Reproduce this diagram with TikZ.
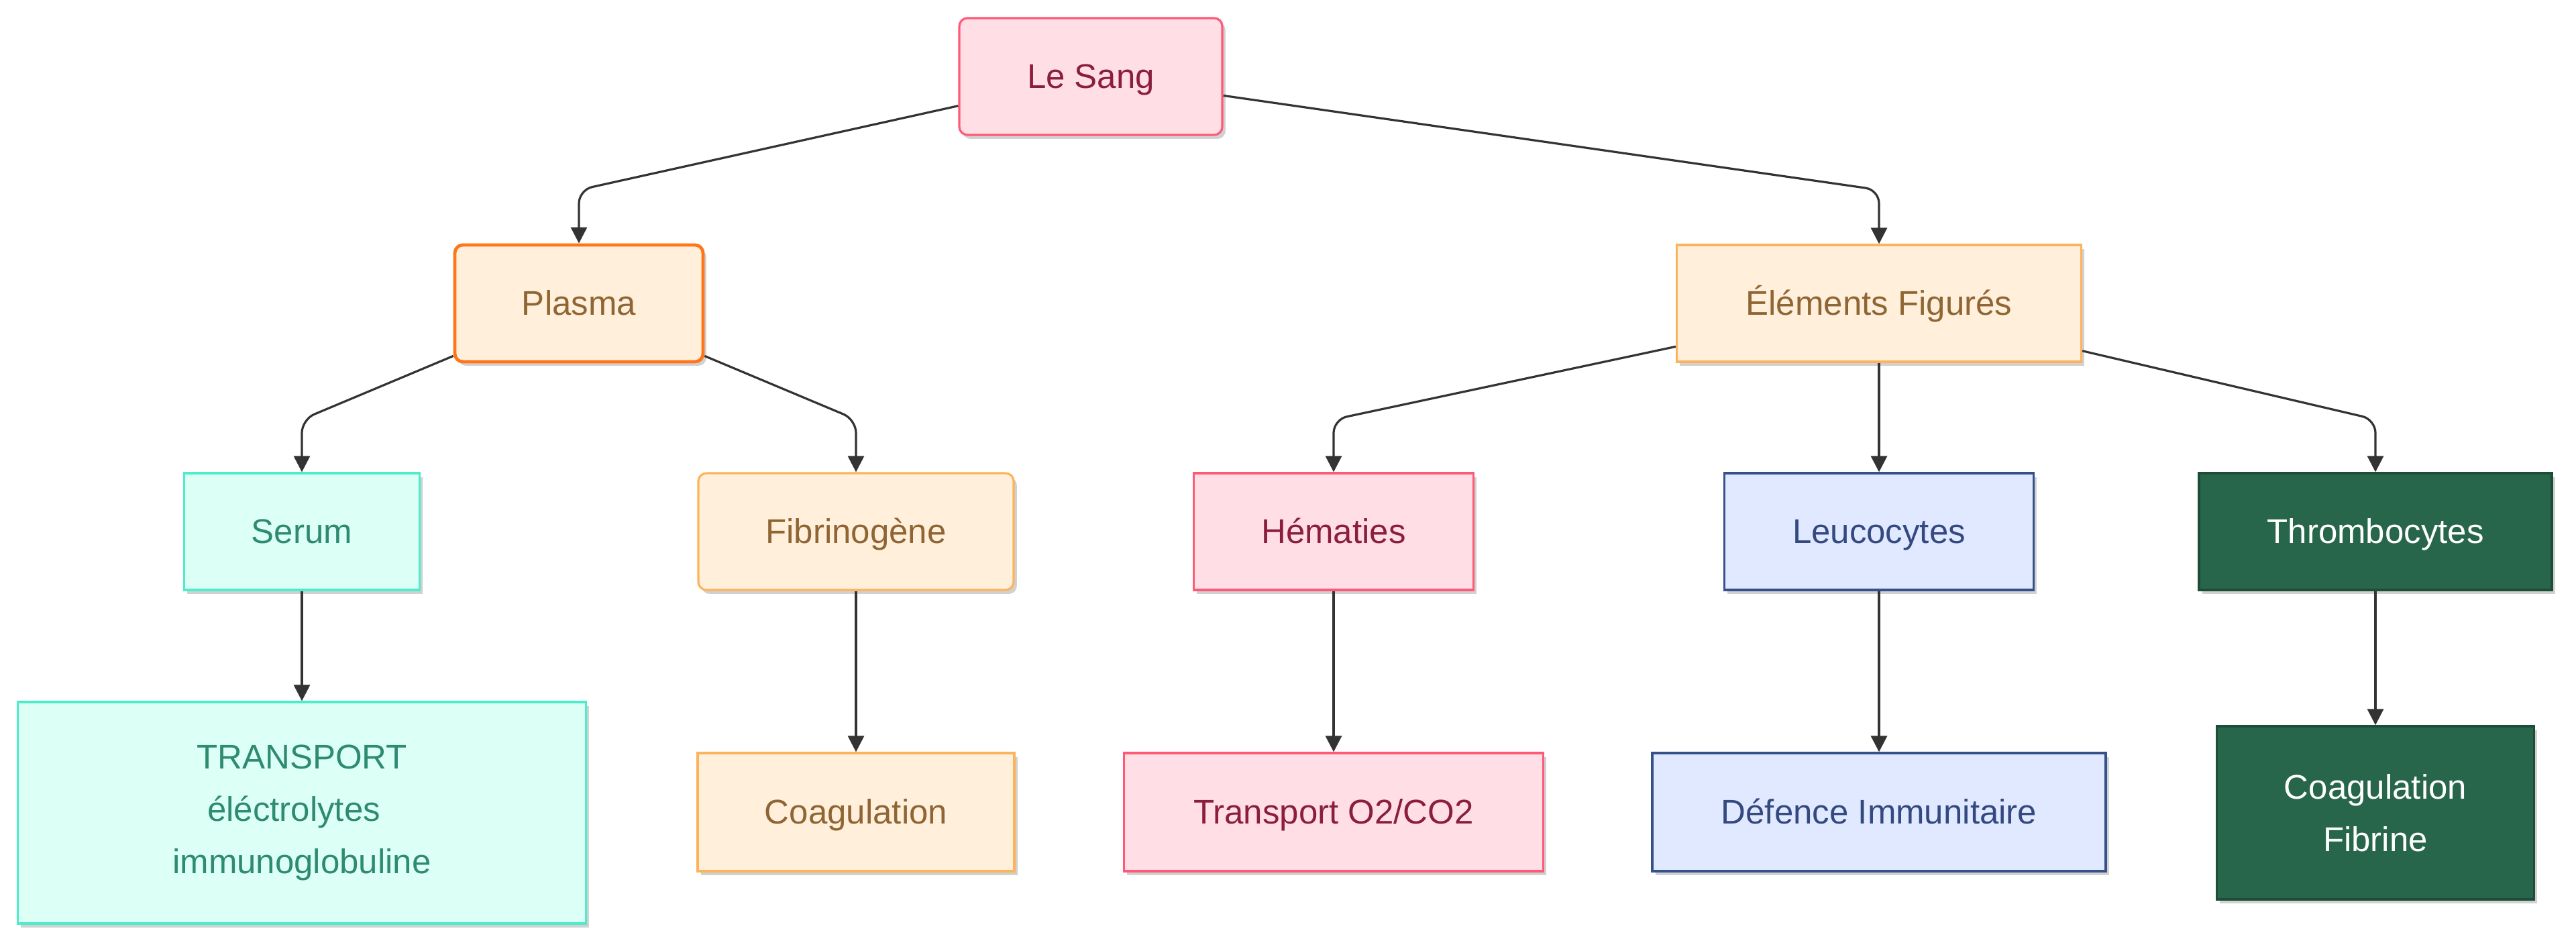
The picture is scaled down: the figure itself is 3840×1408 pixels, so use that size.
\documentclass[tikz,border=0pt]{standalone}
\usepackage{fontspec}
\setmainfont{Liberation Sans}
\usetikzlibrary{arrows.meta,shadows}
\definecolor{pinkF}{HTML}{FFDEE5}
\definecolor{pinkS}{HTML}{FF5978}
\definecolor{pinkT}{HTML}{8B1E3F}
\definecolor{orF}{HTML}{FFEFDB}
\definecolor{orS}{HTML}{FDB35A}
\definecolor{orSS}{HTML}{FF7518}
\definecolor{orT}{HTML}{8F6534}
\definecolor{tuF}{HTML}{DCFFF6}
\definecolor{tuS}{HTML}{4DEDCA}
\definecolor{tuT}{HTML}{2E8B72}
\definecolor{blF}{HTML}{E0E9FF}
\definecolor{blS}{HTML}{36508A}
\definecolor{blT}{HTML}{34497F}
\definecolor{grF}{HTML}{27664B}
\definecolor{grS}{HTML}{1D4D38}
\definecolor{edgeC}{HTML}{333333}
\tikzset{
  box/.style={rectangle, inner sep=0pt, line width=0.8pt, align=center,
    font=\fontsize{12.75}{19.5}\selectfont,
    drop shadow={shadow xshift=1.2pt, shadow yshift=-1.5pt, opacity=0.18, fill=black}},
  oneline/.style={text height=1.0em, text depth=0.11em},
  pinkbox/.style={box, fill=pinkF, draw=pinkS, text=pinkT},
  orbox/.style={box, fill=orF, draw=orS, text=orT},
  tubox/.style={box, fill=tuF, draw=tuS, text=tuT},
  blbox/.style={box, fill=blF, draw=blS, text=blT},
  grbox/.style={box, fill=grF, draw=grS, text=white},
  rnd/.style={rounded corners=3pt},
  conn/.style={draw=edgeC, line width=0.8pt, rounded corners=5pt,
    -{Triangle[length=6pt,width=6pt]}},
}
\begin{document}
\begin{tikzpicture}[x=0.25pt,y=-0.25pt]
\useasboundingbox (0,0) rectangle (3840,1408);
% level 0
\node[pinkbox, rnd, oneline, minimum width=98pt, minimum height=43.5pt] (sang) at (1626,114) {Le Sang};
% level 1
\node[orbox, rnd, oneline, draw=orSS, line width=1.2pt, minimum width=92.5pt, minimum height=43.5pt] (plasma) at (863,452) {Plasma};
\node[orbox, oneline, minimum width=150.75pt, minimum height=43.5pt] (elem) at (2801,452) {Éléments Figurés};
% level 2
\node[tubox, oneline, minimum width=87.75pt, minimum height=43.5pt] (serum) at (450,792) {Serum};
\node[orbox, rnd, oneline, minimum width=117.5pt, minimum height=43.5pt] (fib) at (1276,792) {Fibrinogène};
\node[pinkbox, oneline, minimum width=104.25pt, minimum height=43.5pt] (hem) at (1988,792) {Hématies};
\node[blbox, oneline, minimum width=115.25pt, minimum height=43.5pt] (leuco) at (2801,792) {Leucocytes};
\node[grbox, oneline, minimum width=131.5pt, minimum height=43.5pt] (thrombo) at (3541,792) {Thrombocytes};
% level 3
\node[tubox, minimum width=211.75pt, minimum height=82.5pt] (transp) at (450,1211) {TRANSPORT\\\mbox{éléctrolytes\kern6pt}\\immunoglobuline};
\node[orbox, oneline, minimum width=118pt, minimum height=44pt] (coag) at (1276,1210) {Coagulation};
\node[pinkbox, oneline, minimum width=156.25pt, minimum height=44pt] (oxy) at (1988,1210) {Transport O2/CO2};
\node[blbox, oneline, minimum width=169pt, minimum height=44pt] (defe) at (2801,1210) {Défence Immunitaire};
\node[grbox, minimum width=118.25pt, minimum height=64.5pt] (coagfib) at (3541,1211) {Coagulation\\Fibrine};
% bend points
\coordinate (k1) at (863,283);
\coordinate (k2) at (2801,283);
\coordinate (k3) at (450,625);
\coordinate (k4) at (1276,625);
\coordinate (k5) at (1988,625);
\coordinate (k6) at (3541,625);
% connectors
\draw[conn] (sang) -- (k1) -- (plasma.north);
\draw[conn] (sang) -- (k2) -- (elem.north);
\draw[conn] (plasma) -- (k3) -- (serum.north);
\draw[conn] (plasma) -- (k4) -- (fib.north);
\draw[conn] (elem) -- (k5) -- (hem.north);
\draw[conn] (elem.south) -- (leuco.north);
\draw[conn] (elem) -- (k6) -- (thrombo.north);
\draw[conn] (serum.south) -- (transp.north);
\draw[conn] (fib.south) -- (coag.north);
\draw[conn] (hem.south) -- (oxy.north);
\draw[conn] (leuco.south) -- (defe.north);
\draw[conn] (thrombo.south) -- (coagfib.north);
\end{tikzpicture}
\end{document}
